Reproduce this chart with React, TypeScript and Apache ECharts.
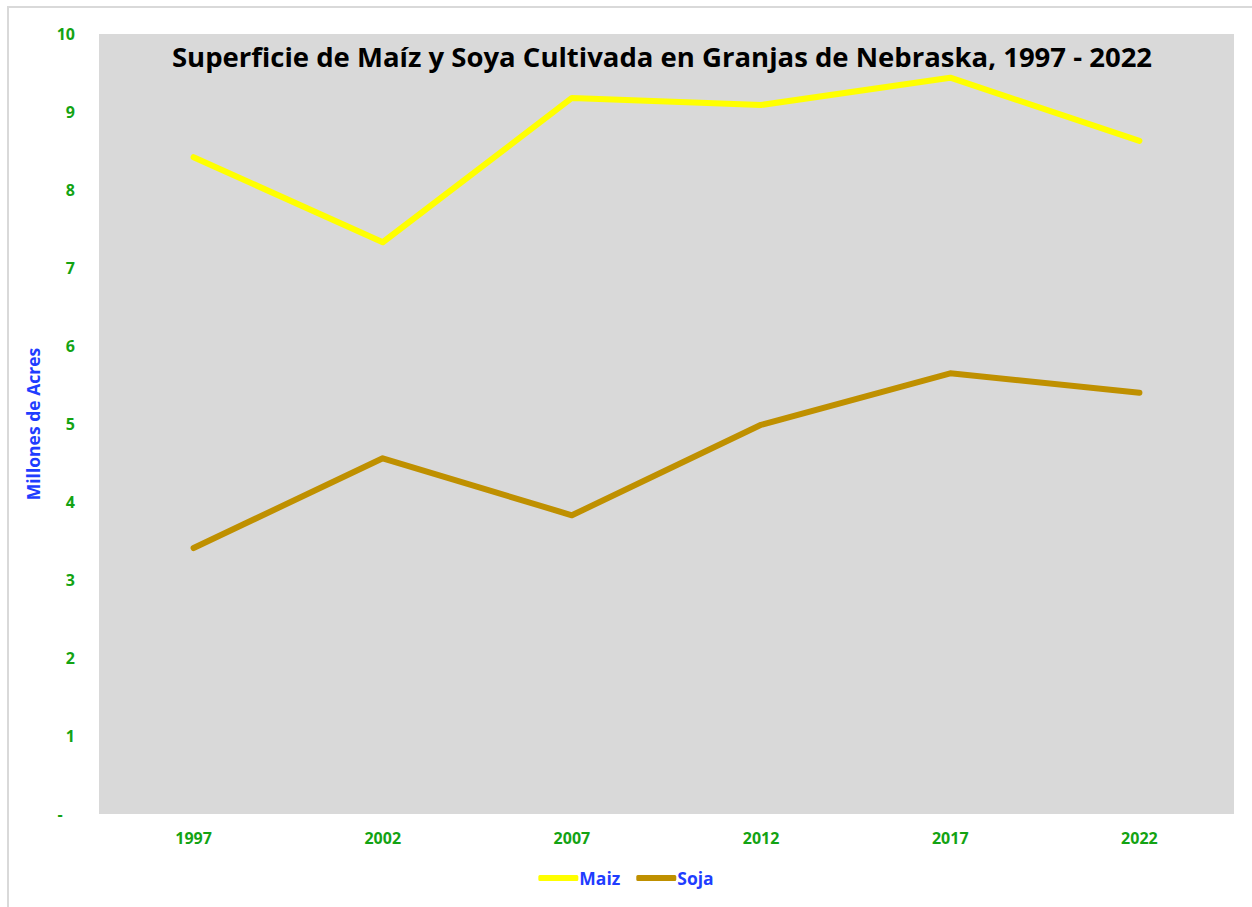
import React, { useEffect, useRef } from "react";
import * as echarts from "echarts";

const years = ["1997", "2002", "2007", "2012", "2017", "2022"];
const maiz = [8.42, 7.33, 9.18, 9.09, 9.44, 8.63];
const soja = [3.41, 4.56, 3.83, 4.99, 5.65, 5.4];

const FONT = "'Open Sans', 'Noto Sans', sans-serif";

export default function App() {
  const ref = useRef<HTMLDivElement>(null);
  useEffect(() => {
    document.body.style.margin = "0";
    const chart = echarts.init(ref.current!, undefined, { renderer: "svg" });
    chart.setOption({
      animation: false,
      backgroundColor: "#ffffff",
      title: {
        text: "Superficie de Maíz y Soya Cultivada en Granjas de Nebraska, 1997 - 2022",
        left: 657,
        textAlign: "center",
        top: 37,
        textStyle: { fontFamily: FONT, fontWeight: "bold", fontSize: 27.5, color: "#000" },
      },
      graphic: [
        {
          type: "rect",
          shape: { x: 8, y: 7, width: 1270, height: 920 },
          style: { fill: "none", stroke: "#d9d9d9", lineWidth: 2 },
          z: -1,
        },
      ],
      legend: {
        bottom: 15,
        left: "center",
        itemWidth: 40,
        itemHeight: 6,
        itemGap: 16,
        icon: "roundRect",
        textStyle: { fontFamily: FONT, fontWeight: "bold", fontSize: 17.5, color: "#1f3dff", padding: [0, 0, 0, -4] },
        data: ["Maiz", "Soja"],
      },
      grid: {
        left: 99,
        right: 18,
        top: 34,
        bottom: 93,
        show: true,
        backgroundColor: "#d9d9d9",
        borderWidth: 0,
      },
      xAxis: {
        type: "category",
        data: years,
        boundaryGap: true,
        axisLine: { show: false },
        axisTick: { show: false },
        axisLabel: { margin: 16, fontFamily: FONT, fontWeight: "bold", fontSize: 16, color: "#13a313" },
      },
      yAxis: {
        type: "value",
        min: 0,
        max: 10,
        interval: 1,
        name: "Millones de Acres",
        nameLocation: "middle",
        nameGap: 57,
        nameTextStyle: { fontFamily: FONT, fontWeight: "bold", fontSize: 17.5, color: "#1f3dff" },
        splitLine: { show: false },
        axisLine: { show: false },
        axisTick: { show: false },
        axisLabel: {
          margin: 24,
          fontFamily: FONT,
          fontWeight: "bold",
          fontSize: 16,
          color: "#13a313",
          formatter: (v: number) => (v === 0 ? "-   " : String(v)),
        },
      },
      series: [
        {
          name: "Maiz",
          type: "line",
          data: maiz,
          symbol: "none",
          color: "#ffff00",
          lineStyle: { width: 6, color: "#ffff00", cap: "round", join: "round" },
        },
        {
          name: "Soja",
          type: "line",
          data: soja,
          symbol: "none",
          color: "#bf9000",
          lineStyle: { width: 6, color: "#bf9000", cap: "round", join: "round" },
        },
      ],
    });
    return () => chart.dispose();
  }, []);
  return <div ref={ref} style={{ width: 1252, height: 907 }} />;
}
